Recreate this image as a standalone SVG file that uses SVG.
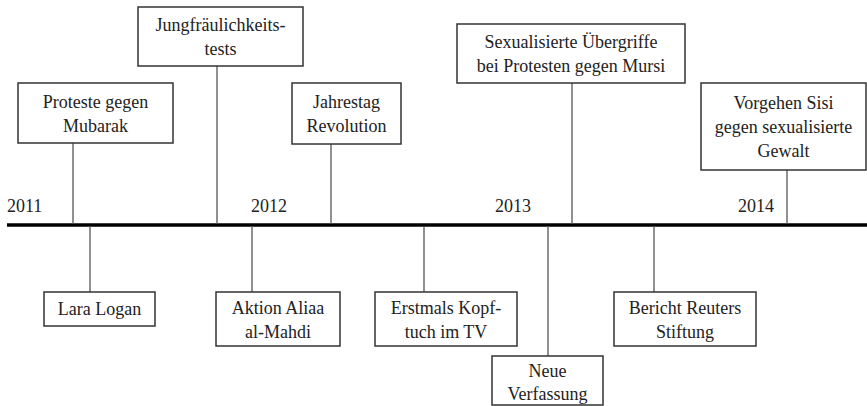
<svg xmlns="http://www.w3.org/2000/svg" width="867" height="406" viewBox="0 0 867 406">
<style>
.box{fill:#fff;stroke:#333;stroke-width:1.5}
.con{stroke:#555;stroke-width:1.3;fill:none}
.axis{stroke:#000;stroke-width:3.5}
.t{font-family:'Liberation Serif','Tinos','Times New Roman','DejaVu Serif',serif;font-size:18px;fill:#222}
.c{text-anchor:middle}
</style>
<rect width="867" height="406" fill="#fff"/>
<g id="connectors">
<line class="axis" x1="7" y1="225" x2="867" y2="225"/>
<line class="con" x1="73" y1="143" x2="73" y2="224"/>
<line class="con" x1="217" y1="66" x2="217" y2="224"/>
<line class="con" x1="331" y1="144" x2="331" y2="224"/>
<line class="con" x1="572" y1="83" x2="572" y2="224"/>
<line class="con" x1="787" y1="170" x2="787" y2="224"/>
<line class="con" x1="90" y1="226" x2="90" y2="292"/>
<line class="con" x1="252" y1="226" x2="252" y2="292"/>
<line class="con" x1="424" y1="226" x2="424" y2="292"/>
<line class="con" x1="548" y1="226" x2="548" y2="356"/>
<line class="con" x1="654" y1="226" x2="654" y2="292"/>
</g>
<g id="years" class="t" font-family="Liberation Serif, serif">
<text x="7" y="212">2011</text>
<text x="251" y="212">2012</text>
<text x="495" y="212">2013</text>
<text x="738" y="212">2014</text>
</g>
<g id="n-proteste" class="t c" font-family="Liberation Serif, serif"><rect class="box" x="18" y="83" width="155" height="60"/><text x="95.5" y="108">Proteste gegen</text><text x="95.5" y="132">Mubarak</text></g>
<g id="n-jungfr" class="t c" font-family="Liberation Serif, serif"><rect class="box" x="138" y="7" width="165" height="59"/><text x="220.5" y="31">Jungfräulichkeits-</text><text x="220.5" y="55">tests</text></g>
<g id="n-jahrestag" class="t c" font-family="Liberation Serif, serif"><rect class="box" x="292" y="83" width="109" height="61"/><text x="346.5" y="108">Jahrestag</text><text x="346.5" y="132">Revolution</text></g>
<g id="n-sexual" class="t c" font-family="Liberation Serif, serif"><rect class="box" x="457" y="24" width="228" height="59"/><text x="571" y="48">Sexualisierte Übergriffe</text><text x="571" y="72">bei Protesten gegen Mursi</text></g>
<g id="n-vorgehen" class="t c" font-family="Liberation Serif, serif"><rect class="box" x="701" y="83" width="165" height="87"/><text x="783.5" y="109">Vorgehen Sisi</text><text x="783.5" y="133">gegen sexualisierte</text><text x="783.5" y="157">Gewalt</text></g>
<g id="n-lara" class="t c" font-family="Liberation Serif, serif"><rect class="box" x="44" y="292" width="111" height="34"/><text x="99.5" y="315">Lara Logan</text></g>
<g id="n-aktion" class="t c" font-family="Liberation Serif, serif"><rect class="box" x="216" y="292" width="124" height="54"/><text x="278" y="314">Aktion Aliaa</text><text x="278" y="338">al-Mahdi</text></g>
<g id="n-erstmals" class="t c" font-family="Liberation Serif, serif"><rect class="box" x="375" y="292" width="142" height="54"/><text x="446" y="314">Erstmals Kopf-</text><text x="446" y="338">tuch im TV</text></g>
<g id="n-neue" class="t c" font-family="Liberation Serif, serif"><rect class="box" x="492" y="356" width="111" height="49"/><text x="547.5" y="377">Neue</text><text x="547.5" y="400">Verfassung</text></g>
<g id="n-bericht" class="t c" font-family="Liberation Serif, serif"><rect class="box" x="614" y="292" width="142" height="54"/><text x="685" y="314">Bericht Reuters</text><text x="685" y="338">Stiftung</text></g>
</svg>
